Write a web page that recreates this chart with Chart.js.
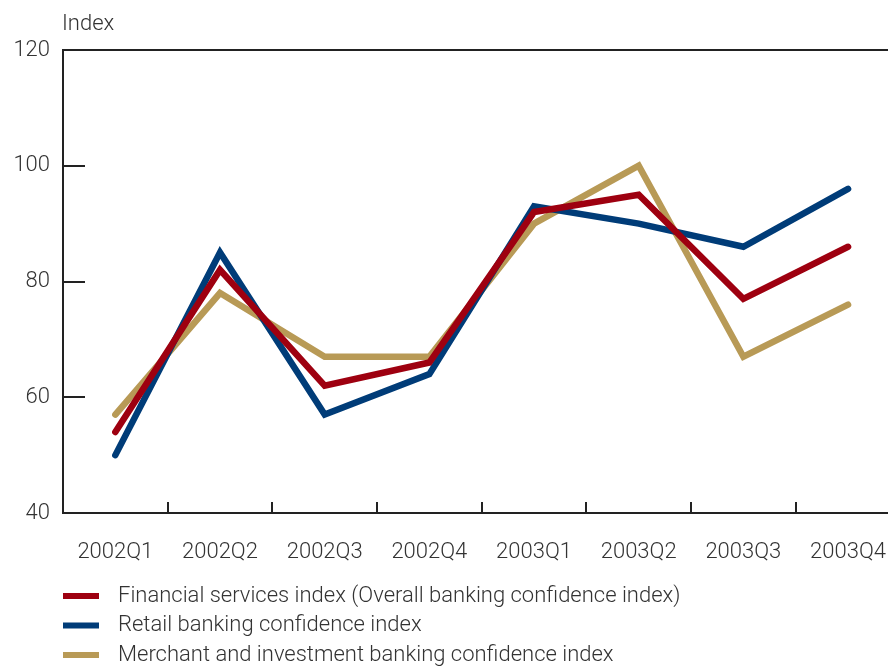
<!DOCTYPE html>
<html>
<head>
<meta charset="utf-8">
<script src="https://cdn.jsdelivr.net/npm/chart.js@4/dist/chart.umd.min.js"></script>
<style>
  html, body { margin: 0; padding: 0; background: #fff; overflow: hidden; }
  #wrap { width: 888px; height: 666px; overflow: hidden; }
  #banking { display: block; width: 904px; height: 666px; }
</style>
</head>
<body>
<div id="wrap"><canvas id="banking" width="904" height="666"></canvas></div>
<script>
// quarters and index values
var quarters = ["2002Q1", "2002Q2", "2002Q3", "2002Q4", "2003Q1", "2003Q2", "2003Q3", "2003Q4"];
var financialData = [54, 82, 62, 66, 92, 95, 77, 86];
var retailData = [50, 85, 57, 64, 93, 90, 86, 96];
var merchantData = [57, 78, 67, 67, 90, 100, 67, 76];
var yTicks = [40, 60, 80, 100, 120];

var FONT = "Roboto, 'Liberation Sans', sans-serif";
var TEXT = "#333333";
var AXIS = "#222222";

// axis frame, inward ticks, "Index" title and the stacked legend
var framePlugin = {
	id: 'frame',
	afterDraw: function(chart) {
		var c = chart.ctx, a = chart.chartArea;
		var xs = chart.scales.x, ys = chart.scales.y;
		c.save();
		c.strokeStyle = AXIS;
		c.lineWidth = 2;
		c.lineCap = "butt";
		c.beginPath();
		c.moveTo(a.left, a.top);
		c.lineTo(a.right, a.top);
		c.stroke();
		for (var j = 0; j < yTicks.length; j++) {
			var py = Math.round(ys.getPixelForValue(yTicks[j]));
			c.beginPath();
			c.moveTo(a.left, py);
			c.lineTo(a.left + 22, py);
			c.stroke();
		}
		for (var i = 1; i < quarters.length; i++) {
			var px = Math.round((xs.getPixelForValue(i - 1) + xs.getPixelForValue(i)) / 2);
			c.beginPath();
			c.moveTo(px, a.bottom);
			c.lineTo(px, a.bottom - 11);
			c.stroke();
		}

		c.fillStyle = TEXT;
		c.font = "300 22px " + FONT;
		c.textBaseline = "middle";
		c.textAlign = "left";
		c.fillText("Index", a.left - 1, a.top - 26);

		chart.data.datasets.forEach(function(ds, k) {
			var ly = 596 + k * 29.5;
			c.strokeStyle = ds.borderColor;
			c.lineWidth = 6;
			c.beginPath();
			c.moveTo(63, ly);
			c.lineTo(99, ly);
			c.stroke();
			c.fillText(ds.label, 118, ly);
		});
		c.restore();
	}
};

var ctx = document.getElementById("banking");
new Chart(ctx, {
	type: 'line',
	data: {
		labels: quarters,
		datasets: [{
			label: "Financial services index (Overall banking confidence index)",
			borderColor: "#9e0010",
			data: financialData,
		},
		{
			label: "Retail banking confidence index",
			borderColor: "#003c78",
			data: retailData,
		},
		{
			label: "Merchant and investment banking confidence index",
			borderColor: "#b89a56",
			data: merchantData,
		}],
	},
	options: {
		responsive: false,
		animation: false,
		layout: {
			padding: { left: 0, right: 0, top: 50, bottom: 0 }
		},
		elements: {
			line: { borderWidth: 6.5, borderCapStyle: 'round', borderJoinStyle: 'miter', tension: 0 },
			point: { radius: 0, hoverRadius: 0 }
		},
		plugins: {
			legend: { display: false },
			tooltip: { enabled: false }
		},
		scales: {
			x: {
				offset: true,
				grid: { display: false },
				border: { display: true, color: AXIS, width: 2 },
				ticks: {
					color: TEXT,
					padding: 18,
					maxRotation: 0,
					autoSkip: false,
					font: { family: FONT, size: 22, weight: 300 }
				},
				afterFit: function(scale) { scale.height = 153; }
			},
			y: {
				min: 40,
				max: 120,
				grid: { display: false },
				border: { display: true, color: AXIS, width: 2 },
				afterBuildTicks: function(scale) {
					scale.ticks = yTicks.map(function(v) { return { value: v }; });
				},
				ticks: {
					color: TEXT,
					padding: 5,
					font: { family: FONT, size: 22, weight: 300 }
				},
				afterFit: function(scale) { scale.width = 63; }
			}
		}
	},
	plugins: [framePlugin]
});
</script>
</body>
</html>
